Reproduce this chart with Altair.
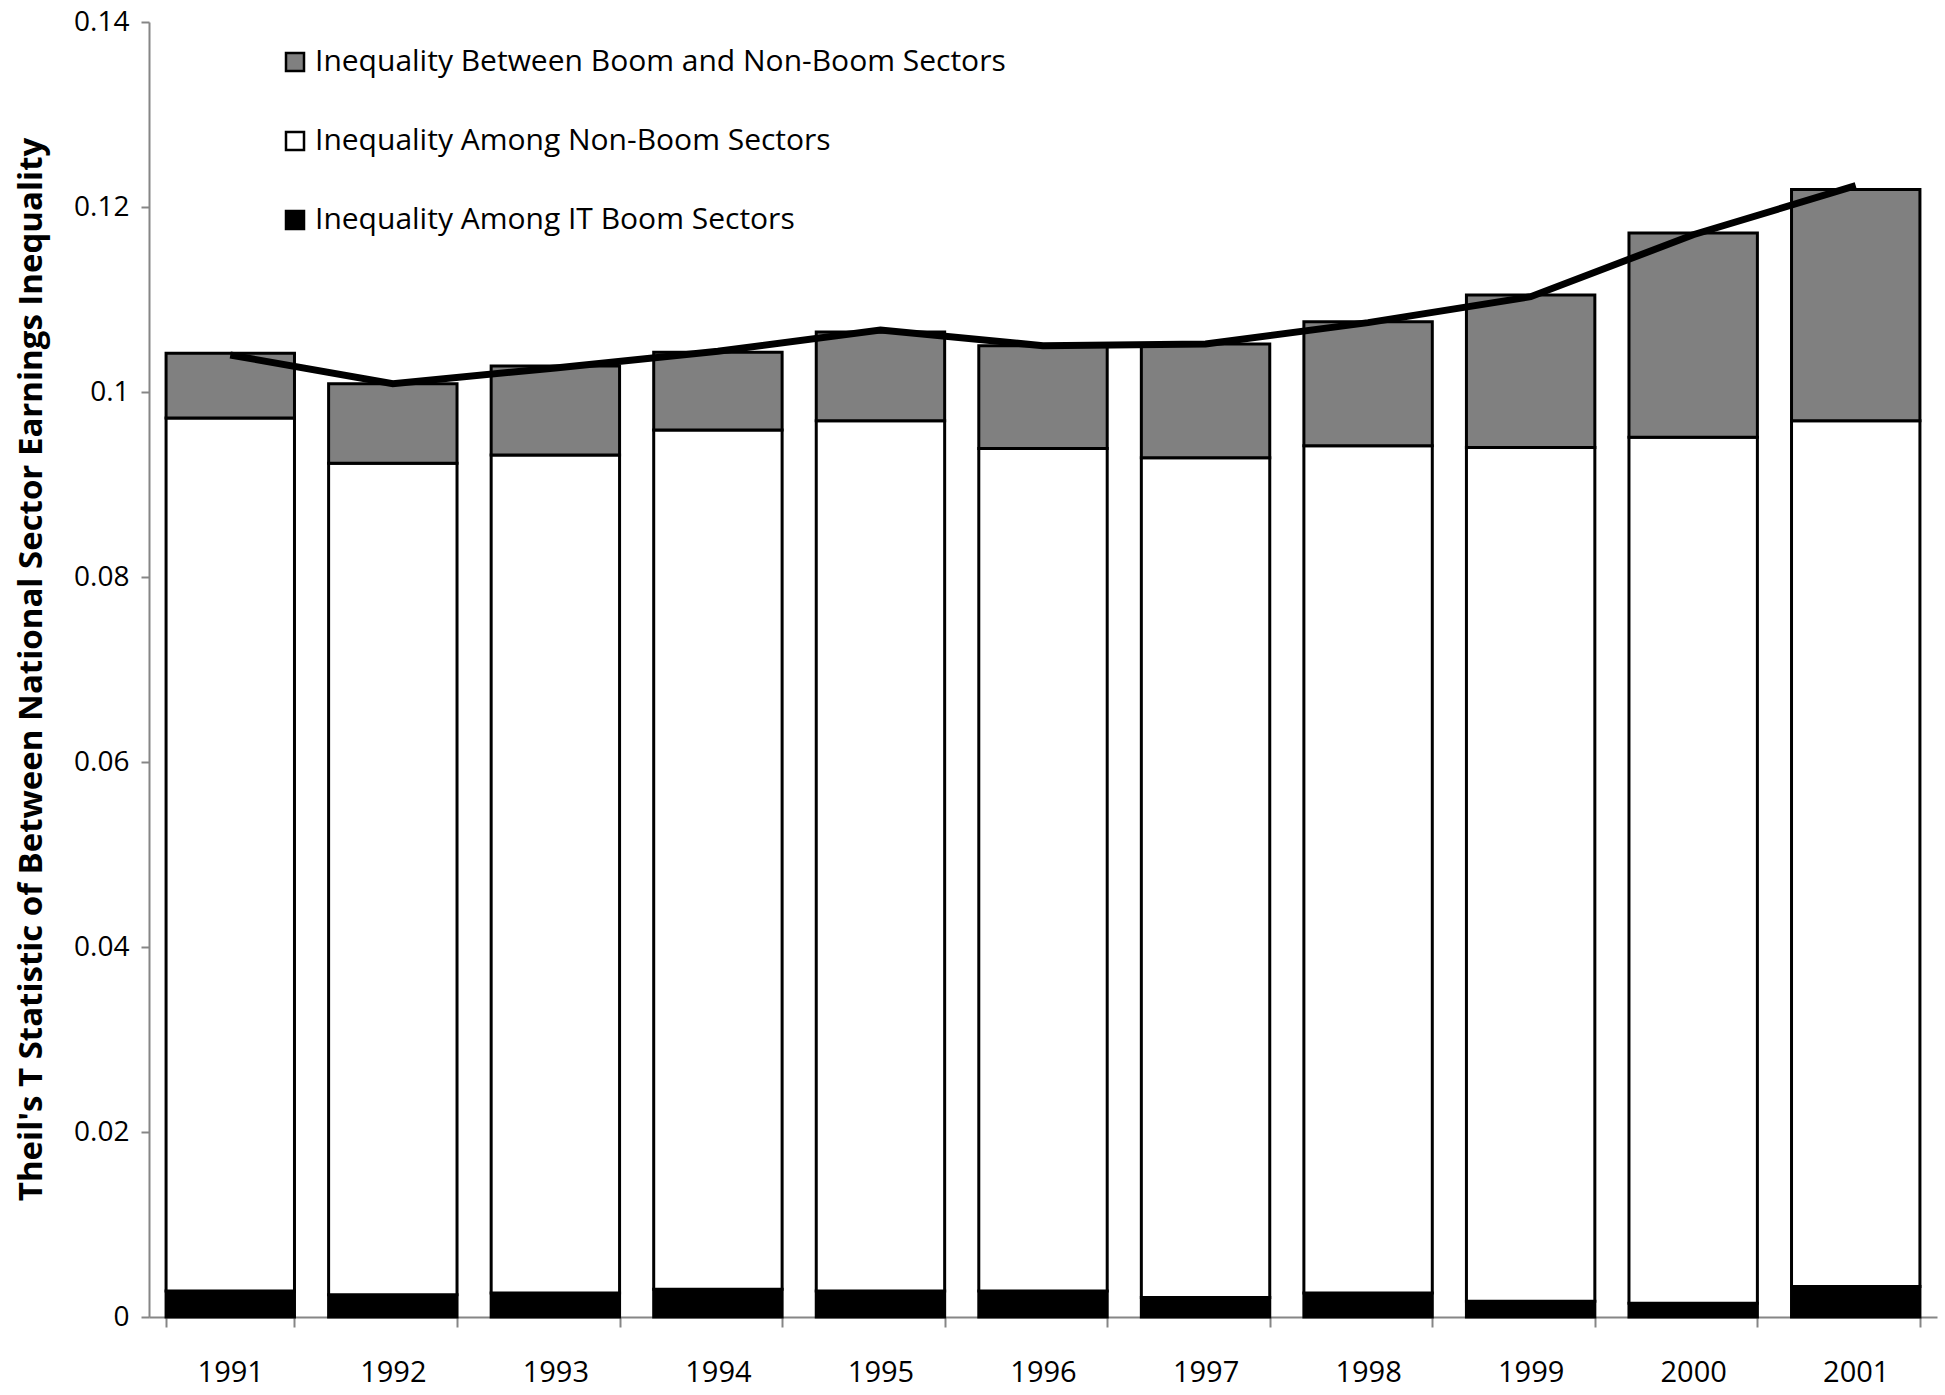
import altair as alt
import pandas as pd

years = ["1991", "1992", "1993", "1994", "1995", "1996", "1997", "1998", "1999", "2000", "2001"]
# stacked segment heights
it_boom = [0.0028, 0.0024, 0.0026, 0.0030, 0.0028, 0.0028, 0.0021, 0.0026, 0.0017, 0.0015, 0.0033]
among_non_boom = [0.0944, 0.0899, 0.0906, 0.0929, 0.0941, 0.0911, 0.0908, 0.0916, 0.0923, 0.0936, 0.0936]
between = [0.0070, 0.0086, 0.0096, 0.0084, 0.0096, 0.0111, 0.0123, 0.0134, 0.0165, 0.0221, 0.0250]
total_line = [0.1040, 0.1009, 0.1026, 0.1044, 0.1067, 0.1050, 0.1052, 0.1075, 0.1103, 0.1170, 0.1223]

series_names = [
    "Inequality Between Boom and Non-Boom Sectors",
    "Inequality Among Non-Boom  Sectors",
    "Inequality Among IT Boom Sectors",
]
series_colors = ["#808080", "#ffffff", "#000000"]
y_ticks = [0, 0.02, 0.04, 0.06, 0.08, 0.1, 0.12, 0.14]
y_title = "Theil's T Statistic of Between National Sector Earnings Inequality"

rows = []
for i, y in enumerate(years):
    rows.append({"year": y, "series": series_names[2], "value": it_boom[i], "ord": 0})
    rows.append({"year": y, "series": series_names[1], "value": among_non_boom[i], "ord": 1})
    rows.append({"year": y, "series": series_names[0], "value": between[i], "ord": 2})
bars_df = pd.DataFrame(rows)
line_df = pd.DataFrame({"year": years, "value": total_line})

FONT = "Open Sans"

x_axis = alt.Axis(
    title=None,
    labelAngle=0,
    tickBand="extent",
    domainColor="#868686",
    domainWidth=2,
    tickColor="#868686",
    tickWidth=2,
    tickSize=10,
    labelFont=FONT,
    labelFontSize=29,
    labelColor="black",
    labelPadding=31,
    grid=False,
)
y_axis = alt.Axis(
    values=y_ticks,
    format="~g",
    title=y_title,
    titleFont=FONT,
    titleFontSize=33,
    titleFontWeight="bold",
    titleColor="black",
    titleX=-118,
    titleY=647,
    titleAlign="center",
    titleBaseline="middle",
    titleAngle=270,
    labelFont=FONT,
    labelFontSize=28,
    labelColor="black",
    labelPadding=12,
    domainColor="#868686",
    domainWidth=2,
    tickColor="#868686",
    tickWidth=2,
    tickSize=8,
    grid=False,
)
x_scale = alt.Scale(paddingInner=0.21, paddingOuter=0.105)
y_scale = alt.Scale(domain=[0, 0.14], nice=False)

bars = alt.Chart(bars_df).mark_bar(stroke="black", strokeWidth=3).encode(
    x=alt.X("year:N", sort=years, scale=x_scale, axis=x_axis),
    y=alt.Y("value:Q", stack="zero", scale=y_scale, axis=y_axis),
    color=alt.Color(
        "series:N",
        scale=alt.Scale(domain=series_names, range=series_colors),
        legend=alt.Legend(
            title=None,
            orient="none",
            legendX=131,
            legendY=25,
            symbolType="square",
            symbolSize=324,
            symbolStrokeColor="black",
            symbolStrokeWidth=2.5,
            symbolOpacity=1,
            labelFont=FONT,
            labelFontSize=30,
            labelColor="black",
            labelOffset=5,
            rowPadding=49,
            labelLimit=1000,
        ),
    ),
    order=alt.Order("ord:Q", sort="ascending"),
)

line = alt.Chart(line_df).mark_line(color="black", strokeWidth=7).encode(
    x=alt.X("year:N", sort=years, scale=x_scale, axis=x_axis),
    y=alt.Y("value:Q", scale=y_scale, axis=y_axis),
)

chart = (
    alt.layer(bars, line)
    .properties(
        width=1788,
        height=1295,
        autosize=alt.AutoSizeParams(type="none"),
        padding={"left": 149, "top": 22, "right": 8, "bottom": 78},
        background="white",
    )
    .configure_view(strokeWidth=0)
)

chart.save("out.html", embed_options={"renderer": "svg", "actions": False})
